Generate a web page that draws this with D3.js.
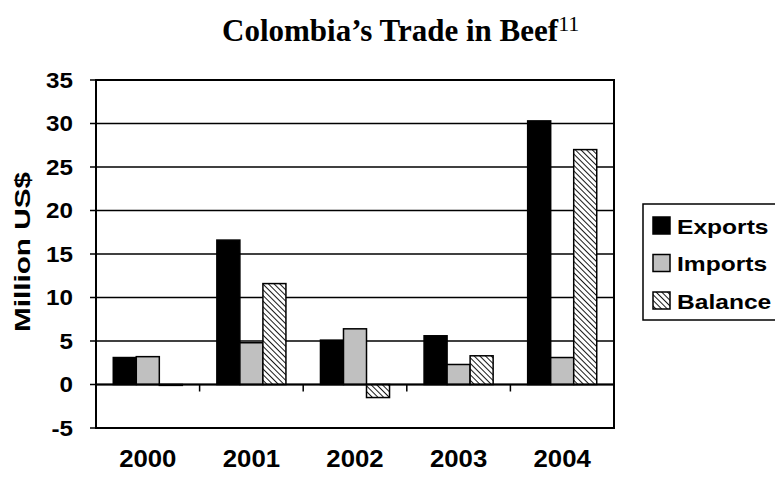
<!DOCTYPE html>
<html>
<head>
<meta charset="utf-8">
<script src="https://cdn.jsdelivr.net/npm/d3@7"></script>
<style>
  body { margin: 0; background: #fff; }
  svg { display: block; }
</style>
</head>
<body>
<div id="chart"></div>
<script>
// chart data
const years = ["2000", "2001", "2002", "2003", "2004"];
const seriesNames = ["Exports", "Imports", "Balance"];
const exportsVals = [3.1, 16.6, 5.1, 5.6, 30.3];
const importsVals = [3.2, 4.8, 6.4, 2.3, 3.1];
const balanceVals = [-0.1, 11.6, -1.5, 3.3, 27.0];
const yTicks = [-5, 0, 5, 10, 15, 20, 25, 30, 35];

const series = [exportsVals, importsVals, balanceVals];

var width = 775, height = 479;
var margin = {top: 80, right: 161, bottom: 51, left: 96};
var plotW = width - margin.left - margin.right,
    plotH = height - margin.top - margin.bottom;

var svg = d3.select("#chart").append("svg")
    .attr("width", width)
    .attr("height", height);

var defs = svg.append("defs");
var pat = defs.append("pattern")
    .attr("id", "hatch")
    .attr("patternUnits", "userSpaceOnUse")
    .attr("width", 4)
    .attr("height", 4)
    .attr("patternTransform", "rotate(-45)");
pat.append("rect").attr("width", 4).attr("height", 4).attr("fill", "#fff");
pat.append("line")
    .attr("x1", 0).attr("y1", 0).attr("x2", 0).attr("y2", 4)
    .attr("stroke", "#000").attr("stroke-width", 1.8);

var fills = ["#000", "#c0c0c0", "url(#hatch)"];

// stretch text horizontally like the original picture
function stretch(sel, k) {
  sel.each(function() {
    var w = this.getComputedTextLength();
    d3.select(this)
      .attr("textLength", w * k)
      .attr("lengthAdjust", "spacingAndGlyphs");
  });
}

// title
var title = svg.append("text")
    .attr("x", 222)
    .attr("y", 41)
    .style("font-family", "'Liberation Serif', 'Times New Roman', serif")
    .style("font-weight", "bold")
    .style("font-size", "31px")
    .text("Colombia\u2019s Trade in Beef");
title.append("tspan")
    .attr("dy", -10)
    .style("font-weight", "normal")
    .style("font-size", "22px")
    .text("11");

var g = svg.append("g")
    .attr("transform", "translate(" + margin.left + "," + margin.top + ")");

var x0 = d3.scaleBand()
    .domain(years)
    .range([0, plotW]);

// bars are 1/4.5 of the band, gap width 150%
var barW = x0.bandwidth() / 4.5;
var x1 = d3.scaleBand()
    .domain(seriesNames)
    .range([barW * 0.75, barW * 3.75]);

var y = d3.scaleLinear()
    .domain([-5, 35])
    .range([plotH, 0]);

// gridlines
g.append("g")
    .selectAll("line")
    .data(yTicks)
    .enter().append("line")
    .attr("x1", -6)
    .attr("x2", plotW)
    .attr("y1", d => y(d))
    .attr("y2", d => y(d))
    .attr("stroke", "#000")
    .attr("stroke-width", 1.5);

// bars
var groups = g.append("g")
    .selectAll("g")
    .data(years)
    .enter().append("g")
    .attr("transform", d => "translate(" + x0(d) + ",0)");

groups.selectAll("rect")
    .data((d, i) => seriesNames.map((s, j) => ({s: s, j: j, v: series[j][i]})))
    .enter().append("rect")
    .attr("x", d => x1(d.s))
    .attr("width", x1.bandwidth())
    .attr("y", d => y(Math.max(0, d.v)))
    .attr("height", d => Math.abs(y(d.v) - y(0)))
    .attr("fill", d => fills[d.j])
    .attr("stroke", "#000")
    .attr("stroke-width", 1.5);

// x axis on the zero line, ticks at category boundaries
var xAxis = g.append("g")
    .attr("transform", "translate(0," + y(0) + ")");
xAxis.append("line")
    .attr("x1", 0).attr("x2", plotW)
    .attr("stroke", "#000").attr("stroke-width", 2);
xAxis.selectAll(".tick")
    .data(years.slice(1))
    .enter().append("line")
    .attr("class", "tick")
    .attr("x1", d => x0(d)).attr("x2", d => x0(d))
    .attr("y1", 0).attr("y2", 7)
    .attr("stroke", "#000").attr("stroke-width", 1.5);

// frame
g.append("rect")
    .attr("width", plotW)
    .attr("height", plotH)
    .attr("fill", "none")
    .attr("stroke", "#000")
    .attr("stroke-width", 2);

var labelFont = "'Liberation Sans', Arial, sans-serif";

// y tick labels
g.append("g")
    .selectAll("text")
    .data(yTicks)
    .enter().append("text")
    .attr("x", -23)
    .attr("y", d => y(d))
    .attr("dy", "0.36em")
    .attr("text-anchor", "end")
    .style("font-family", labelFont)
    .style("font-weight", "bold")
    .style("font-size", "22px")
    .text(d => d)
    .call(stretch, 1.1);

// x labels
g.append("g")
    .selectAll("text")
    .data(years)
    .enter().append("text")
    .attr("x", d => x0(d) + x0.bandwidth() / 2)
    .attr("y", plotH + 39)
    .attr("text-anchor", "middle")
    .style("font-family", labelFont)
    .style("font-weight", "bold")
    .style("font-size", "23px")
    .text(d => d)
    .call(stretch, 1.12);

// y axis label
svg.append("text")
    .attr("transform", "translate(30,252) rotate(-90)")
    .attr("text-anchor", "middle")
    .style("font-family", labelFont)
    .style("font-weight", "bold")
    .style("font-size", "22px")
    .attr("textLength", 160)
    .attr("lengthAdjust", "spacingAndGlyphs")
    .text("Million US$");

// legend
var legend = svg.append("g")
    .attr("transform", "translate(643,204)");
legend.append("rect")
    .attr("width", 140)
    .attr("height", 116)
    .attr("fill", "#fff")
    .attr("stroke", "#000")
    .attr("stroke-width", 1.5);

var items = legend.selectAll(".item")
    .data(seriesNames)
    .enter().append("g")
    .attr("class", "item")
    .attr("transform", (d, i) => "translate(10," + (22 + i * 37.5) + ")");
items.append("rect")
    .attr("x", 0)
    .attr("y", -9)
    .attr("width", 17)
    .attr("height", 17)
    .attr("fill", (d, i) => fills[i])
    .attr("stroke", "#000")
    .attr("stroke-width", 1.5);
items.append("text")
    .attr("x", 24)
    .attr("dy", "0.36em")
    .style("font-family", labelFont)
    .style("font-weight", "bold")
    .style("font-size", "21px")
    .text(d => d)
    .call(stretch, 1.17);
</script>
</body>
</html>
